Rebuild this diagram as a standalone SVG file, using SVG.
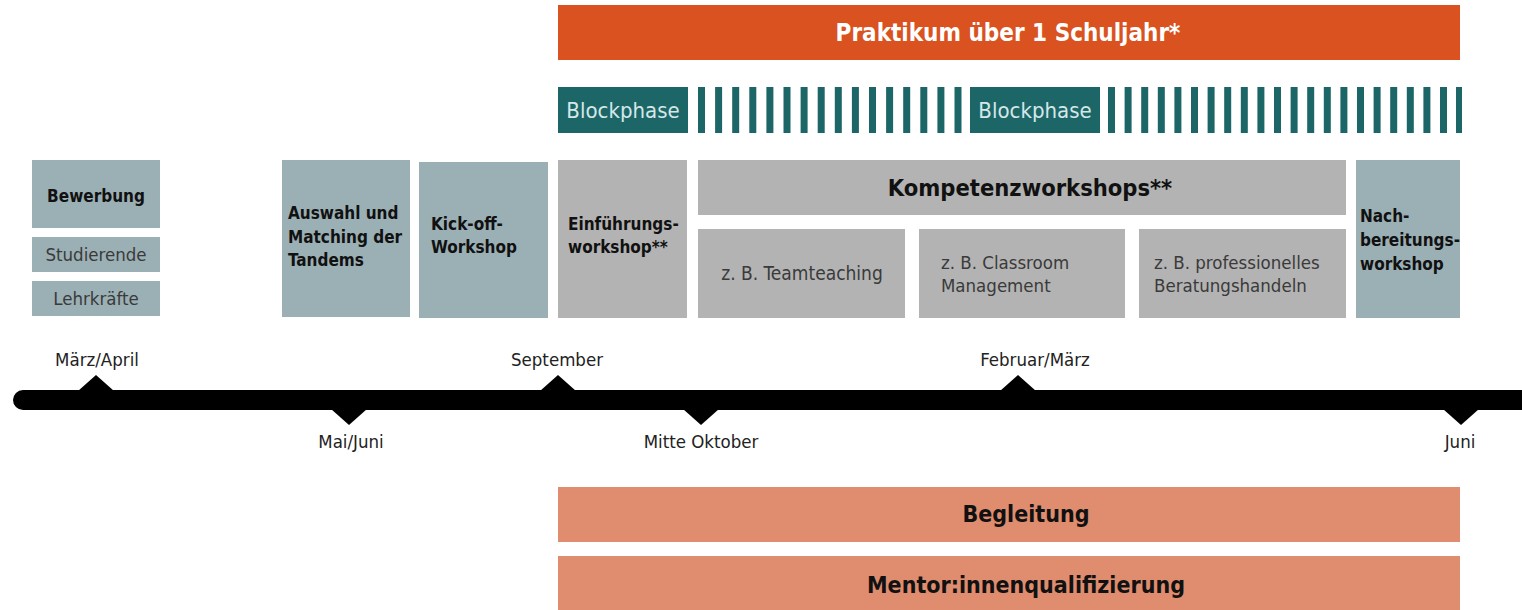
<svg xmlns="http://www.w3.org/2000/svg" width="1522" height="610" viewBox="0 0 1522 610">
  <style>
    text { font-family: "Liberation Sans Narrow", "DejaVu Sans Condensed", "Liberation Sans", sans-serif; }
    .blue { fill: #9bb0b5; }
    .grey { fill: #b3b3b3; }
    .teal { fill: #1d6668; }
    .orange { fill: #d9521f; }
    .salmon { fill: #e08c6e; }
    .b { font-weight: bold; fill: #111; font-size: 17px; }
    .r { fill: #3a3a3a; font-size: 18.5px; }
    .head { font-weight: bold; fill: #111; font-size: 23px; text-anchor: middle; }
    .bp { fill: #d4e8e8; font-size: 22px; text-anchor: middle; }
    .month { fill: #222; font-size: 18.5px; text-anchor: middle; }
    .mid { text-anchor: middle; }
  </style>

  <!-- practicum header -->
  <g id="praktikum">
    <rect class="orange" x="558" y="5" width="902" height="55"/>
    <text class="head" x="1008" y="41" style="fill:#fff;font-size:24px">Praktikum über 1 Schuljahr*</text>
  </g>

  <!-- block phases and weekly school days -->
  <g id="blockphase1">
    <rect class="teal" x="558" y="87" width="130" height="46"/>
    <text class="bp" x="623" y="118">Blockphase</text>
  </g>
  <g id="schooldays1" class="teal">
    <rect x="698" y="87" width="7" height="46"/>
    <rect x="715.1" y="87" width="7" height="46"/>
    <rect x="732.2" y="87" width="7" height="46"/>
    <rect x="749.3" y="87" width="7" height="46"/>
    <rect x="766.4" y="87" width="7" height="46"/>
    <rect x="783.5" y="87" width="7" height="46"/>
    <rect x="800.6" y="87" width="7" height="46"/>
    <rect x="817.7" y="87" width="7" height="46"/>
    <rect x="834.8" y="87" width="7" height="46"/>
    <rect x="851.9" y="87" width="7" height="46"/>
    <rect x="869" y="87" width="7" height="46"/>
    <rect x="886.1" y="87" width="7" height="46"/>
    <rect x="903.2" y="87" width="7" height="46"/>
    <rect x="920.3" y="87" width="7" height="46"/>
    <rect x="937.4" y="87" width="7" height="46"/>
    <rect x="954.5" y="87" width="7" height="46"/>
  </g>
  <g id="blockphase2">
    <rect class="teal" x="970" y="87" width="130" height="46"/>
    <text class="bp" x="1035" y="118">Blockphase</text>
  </g>
  <g id="schooldays2" class="teal">
    <rect x="1108" y="87" width="7" height="46"/>
    <rect x="1124.6" y="87" width="7" height="46"/>
    <rect x="1141.2" y="87" width="7" height="46"/>
    <rect x="1157.8" y="87" width="7" height="46"/>
    <rect x="1174.4" y="87" width="7" height="46"/>
    <rect x="1191" y="87" width="7" height="46"/>
    <rect x="1207.6" y="87" width="7" height="46"/>
    <rect x="1224.2" y="87" width="7" height="46"/>
    <rect x="1240.8" y="87" width="7" height="46"/>
    <rect x="1257.4" y="87" width="7" height="46"/>
    <rect x="1274" y="87" width="7" height="46"/>
    <rect x="1290.6" y="87" width="7" height="46"/>
    <rect x="1307.2" y="87" width="7" height="46"/>
    <rect x="1323.8" y="87" width="7" height="46"/>
    <rect x="1340.4" y="87" width="7" height="46"/>
    <rect x="1357" y="87" width="7" height="46"/>
    <rect x="1373.6" y="87" width="7" height="46"/>
    <rect x="1390.2" y="87" width="7" height="46"/>
    <rect x="1406.8" y="87" width="7" height="46"/>
    <rect x="1423.4" y="87" width="7" height="46"/>
    <rect x="1440" y="87" width="7" height="46"/>
    <rect x="1456" y="87" width="6" height="46"/>
  </g>

  <!-- application -->
  <g id="bewerbung">
    <rect class="blue" x="32" y="160" width="128" height="68"/>
    <text class="b mid" x="96" y="202">Bewerbung</text>
  </g>
  <g id="studierende">
    <rect class="blue" x="32" y="237" width="128" height="35"/>
    <text class="r mid" x="96" y="261">Studierende</text>
  </g>
  <g id="lehrkraefte">
    <rect class="blue" x="32" y="281" width="128" height="35"/>
    <text class="r mid" x="96" y="305">Lehrkräfte</text>
  </g>

  <g id="auswahl">
    <rect class="blue" x="282" y="160" width="128" height="157"/>
    <text class="b" x="288" y="219">Auswahl und</text>
    <text class="b" x="288" y="243">Matching der</text>
    <text class="b" x="288" y="266">Tandems</text>
  </g>
  <g id="kickoff">
    <rect class="blue" x="419" y="162" width="129" height="156"/>
    <text class="b" x="431" y="230">Kick-off-</text>
    <text class="b" x="431" y="253">Workshop</text>
  </g>
  <g id="einfuehrung">
    <rect class="grey" x="558" y="160" width="129" height="158"/>
    <text class="b" x="568" y="230">Einführungs-</text>
    <text class="b" x="568" y="253">workshop**</text>
  </g>

  <!-- competence workshops -->
  <g id="kompetenz">
    <rect class="grey" x="698" y="160" width="648" height="55"/>
    <text class="head" x="1030" y="196" style="font-size:23.5px">Kompetenzworkshops**</text>
  </g>
  <g id="teamteaching">
    <rect class="grey" x="698" y="229" width="207" height="89"/>
    <text class="r mid" x="802" y="280" style="font-size:19px">z. B. Teamteaching</text>
  </g>
  <g id="classroom">
    <rect class="grey" x="919" y="229" width="206" height="89"/>
    <text class="r" x="941" y="269">z. B. Classroom</text>
    <text class="r" x="941" y="292">Management</text>
  </g>
  <g id="beratung">
    <rect class="grey" x="1139" y="229" width="207" height="89"/>
    <text class="r" x="1154" y="269">z. B. professionelles</text>
    <text class="r" x="1154" y="292">Beratungshandeln</text>
  </g>
  <g id="nachbereitung">
    <rect class="blue" x="1356" y="160" width="104" height="158"/>
    <text class="b" x="1360" y="222">Nach-</text>
    <text class="b" x="1360" y="246">bereitungs-</text>
    <text class="b" x="1360" y="270">workshop</text>
  </g>

  <!-- timeline -->
  <g id="timeline" fill="#000">
    <path d="M23 390 H1522 V410 H23 A10 10 0 0 1 23 390 Z"/>
    <polygon points="78,391 96,375 114,391"/>
    <polygon points="540,391 558,375 576,391"/>
    <polygon points="1000,391 1018,375 1036,391"/>
    <polygon points="331,409 349,425 367,409"/>
    <polygon points="683,409 701,425 719,409"/>
    <polygon points="1443,409 1461,425 1479,409"/>
  </g>
  <g id="months">
    <text class="month" x="97" y="366">März/April</text>
    <text class="month" x="557" y="366">September</text>
    <text class="month" x="1035" y="366">Februar/März</text>
    <text class="month" x="351" y="448">Mai/Juni</text>
    <text class="month" x="701" y="448">Mitte Oktober</text>
    <text class="month" x="1460" y="448">Juni</text>
  </g>

  <!-- accompanying strands -->
  <g id="begleitung">
    <rect class="salmon" x="558" y="487" width="902" height="55"/>
    <text class="head" x="1026" y="522">Begleitung</text>
  </g>
  <g id="mentorqualifizierung">
    <rect class="salmon" x="558" y="556" width="902" height="54"/>
    <text class="head" x="1026" y="593">Mentor:innenqualifizierung</text>
  </g>
</svg>
